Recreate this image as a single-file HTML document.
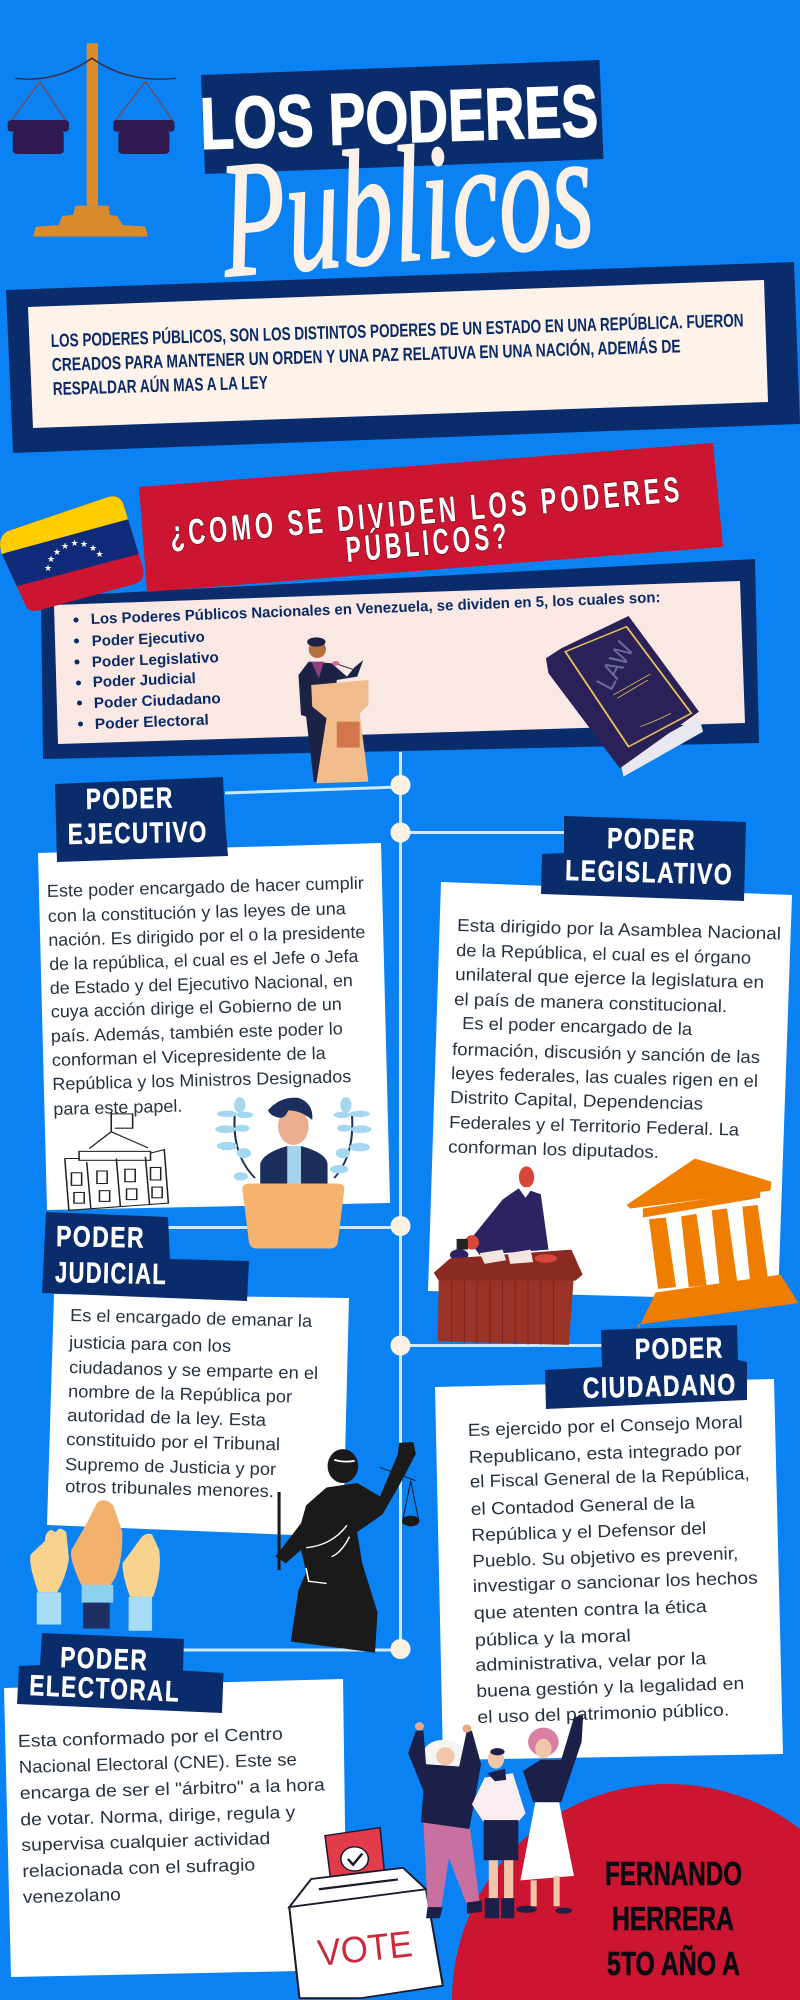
<!DOCTYPE html>
<html lang="es"><head><meta charset="utf-8"><title>Los Poderes Públicos</title>
<style>
html,body{margin:0;padding:0;background:#0b82f4;width:800px;height:2000px;overflow:hidden}
svg{display:block}
text{font-family:"Liberation Sans","DejaVu Sans",sans-serif}
.b{font-size:17.5px;fill:#26323f}
.t{font-size:29px;font-weight:700;fill:#fff;stroke:#fff;stroke-width:.5px;letter-spacing:2px}
.l{font-size:15px;font-weight:700;fill:#0a2a66}
.p{font-size:18.5px;font-weight:700;fill:#0a2a66}
.n{font-size:33px;font-weight:700;fill:#0a0a12;stroke:#0a0a12;stroke-width:.6px}
.h{font-size:36px;font-weight:700;fill:#fff;letter-spacing:6px;paint-order:stroke;stroke:#6d0a1c;stroke-width:1.5px}
</style></head><body>
<svg width="800" height="2000" viewBox="0 0 800 2000" xmlns="http://www.w3.org/2000/svg">
<defs>
<clipPath id="fc"><path d="M0 545Q0 535 8 531L105 498Q120 492 124 506L143 568Q146 580 135 584L40 610Q28 614 24 602L1 552Z"/></clipPath>
</defs>
<rect width="800" height="2000" fill="#0b82f4"/>

<!-- scale -->
<g transform="scale(.5102,.3333)">
<polygon points="65,710 290,710 285,680 240,675 230,648 215,645 213,617 148,617 143,645 122,648 115,675 70,680" fill="#d98a2b"/>
<rect x="170" y="130" width="22" height="487" fill="#dc8c2c"/>
<path d="M30 235Q110 250 180 175Q250 250 345 235" fill="none" stroke="#3a2a40" stroke-width="4"/>
<path d="M78 245L20 365M78 245L130 365M285 245L225 365M285 245L340 365" stroke="#8a3f3a" stroke-width="2.5" fill="none"/>
<rect x="15" y="360" width="120" height="35" rx="8" fill="#2e1a4f"/><rect x="25" y="392" width="100" height="70" rx="10" fill="#2e1a4f"/>
<rect x="222" y="360" width="120" height="35" rx="8" fill="#2e1a4f"/><rect x="232" y="392" width="100" height="70" rx="10" fill="#2e1a4f"/>
</g>

<!-- title -->
<polygon points="201,75 599.5,60 603.5,159 205,174" fill="#0a2c6b"/>
<text transform="translate(201 149) rotate(-1.9)" font-size="73" font-weight="700" fill="#fff" stroke="#fff" stroke-width="1.5" textLength="398" lengthAdjust="spacingAndGlyphs">LOS PODERES</text>
<text transform="translate(226 276) rotate(-5)" font-size="165" style="font-family:'Liberation Serif',serif;font-style:italic" fill="#fbf1e8" stroke="#fbf1e8" stroke-width="2.5" textLength="372" lengthAdjust="spacingAndGlyphs">Publicos</text>

<!-- intro panel -->
<polygon points="6,290 794,262 800,424 13,453" fill="#0a2c6b"/>
<polygon points="28,307 764,280 768,402 33,428" fill="#fdf3ea"/>
<text class="p" transform="translate(51 347) rotate(-1.7)" textLength="693" lengthAdjust="spacingAndGlyphs">LOS PODERES PÚBLICOS, SON LOS DISTINTOS PODERES DE UN ESTADO EN UNA REPÚBLICA. FUERON</text>
<text class="p" transform="translate(52 371) rotate(-1.7)" textLength="629" lengthAdjust="spacingAndGlyphs">CREADOS PARA MANTENER UN ORDEN Y UNA PAZ RELATUVA EN UNA NACIÓN, ADEMÁS DE</text>
<text class="p" transform="translate(53 395) rotate(-1.7)" textLength="215" lengthAdjust="spacingAndGlyphs">RESPALDAR AÚN MAS A LA LEY</text>

<!-- panel 2 -->
<polygon points="41,597 755,559 759,743 43,759" fill="#0a2c6b"/>
<polygon points="54,605 740,581 745,723 58,744" fill="#f9e8e4"/>

<!-- red banner -->
<polygon points="139,487 713,443 723,547 147,592" fill="#cc1530"/>
<text class="h" transform="translate(171 546) rotate(-5)" textLength="515" lengthAdjust="spacingAndGlyphs">¿COMO SE DIVIDEN LOS PODERES</text>
<text class="h" transform="translate(347 562) rotate(-5)" textLength="165" lengthAdjust="spacingAndGlyphs">PÚBLICOS?</text>

<!-- flag -->
<g clip-path="url(#fc)">
<rect x="0" y="480" width="160" height="140" fill="#cc1530"/>
<polygon points="14,587 139,554 150,480 0,480 0,590" fill="#0e2a78"/>
<polygon points="5,553 129,519 129,480 0,480 0,555" fill="#ffcc00"/>
</g>
<g font-size="9" fill="#fff" style="font-family:'DejaVu Sans',sans-serif" text-anchor="middle">
<text x="48" y="571" style="font-family:'DejaVu Sans',sans-serif">★</text><text x="51" y="562" style="font-family:'DejaVu Sans',sans-serif">★</text><text x="57" y="555" style="font-family:'DejaVu Sans',sans-serif">★</text><text x="65" y="549" style="font-family:'DejaVu Sans',sans-serif">★</text><text x="74.5" y="546" style="font-family:'DejaVu Sans',sans-serif">★</text><text x="84" y="547" style="font-family:'DejaVu Sans',sans-serif">★</text><text x="93" y="551" style="font-family:'DejaVu Sans',sans-serif">★</text><text x="99.5" y="557" style="font-family:'DejaVu Sans',sans-serif">★</text>
</g>

<!-- list -->
<g fill="#0a2a66"><circle cx="76" cy="620" r="2.5"/><circle cx="76.5" cy="641" r="2.5"/><circle cx="77" cy="662" r="2.5"/><circle cx="78.5" cy="683" r="2.5"/><circle cx="79.5" cy="703" r="2.5"/><circle cx="80.5" cy="724" r="2.5"/></g>
<text class="l" transform="translate(91 624) rotate(-2.2)" textLength="570" lengthAdjust="spacingAndGlyphs">Los Poderes Públicos Nacionales en Venezuela, se dividen en 5, los cuales son:</text>
<text class="l" transform="translate(92 646) rotate(-2.2)" textLength="113" lengthAdjust="spacingAndGlyphs">Poder Ejecutivo</text>
<text class="l" transform="translate(92 667) rotate(-2.2)" textLength="127" lengthAdjust="spacingAndGlyphs">Poder Legislativo</text>
<text class="l" transform="translate(93 687) rotate(-2.2)" textLength="103" lengthAdjust="spacingAndGlyphs">Poder Judicial</text>
<text class="l" transform="translate(94 708) rotate(-2.2)" textLength="127" lengthAdjust="spacingAndGlyphs">Poder Ciudadano</text>
<text class="l" transform="translate(95 729) rotate(-2.2)" textLength="114" lengthAdjust="spacingAndGlyphs">Poder Electoral</text>

<!-- timeline -->
<g stroke="#cdeaff" stroke-width="3" fill="none">
<path d="M400.5 752V1650"/>
<path d="M225 793L400 787M400 832.5H570M165 1227.5H400M400 1345.5H605M180 1650H400"/>
</g>
<g fill="#fdf1e4"><circle cx="400.5" cy="785" r="10"/><circle cx="400.5" cy="832.5" r="10"/><circle cx="400.5" cy="1226" r="10"/><circle cx="400.5" cy="1345.5" r="10"/><circle cx="400.5" cy="1649" r="10"/></g>

<!-- speaker and book (zoom 2 coordinates) -->
<g transform="translate(0,440) scale(.5102,.3333)">
<polygon points="605,665 585,705 590,825 600,830 615,1025 625,1030 650,900 660,720 700,710 712,660 695,682 680,710 650,670" fill="#1c2146"/>
<polygon points="610,665 625,715 635,665" fill="#8d3f7a"/>
<ellipse cx="622" cy="628" rx="17" ry="26" fill="#b5703f"/><ellipse cx="620" cy="606" rx="18" ry="14" fill="#1c2146"/>
<path d="M660 672L695 690" stroke="#333" stroke-width="3"/><circle cx="658" cy="670" r="7" fill="#d86a9a"/>
<polygon points="610,735 722,720 722,795 705,820 722,1025 620,1030 640,835 612,800" fill="#f2bd8c"/>
<rect x="660" y="845" width="45" height="78" fill="#d2774d"/>
<polygon points="1215,960 1370,830 1378,875 1222,1010" fill="#e8e8ee"/>
<polygon points="1232,528 1370,815 1215,985 1075,700 1070,655 1100,625" fill="#2a2158"/>
<polygon points="1228,560 1355,820 1232,920 1108,635" fill="none" stroke="#e4c35a" stroke-width="4"/>
<path d="M1202 765L1275 702M1210 775L1270 720M1255 860Q1290 840 1315 820" stroke="#e4c35a" stroke-width="2" fill="none"/>
</g>
<text transform="translate(611 692) rotate(-62)" font-size="26" fill="#6d6d9c" textLength="50" lengthAdjust="spacingAndGlyphs">LAW</text>

<!-- Ejecutivo -->
<polygon points="38,853 381,843 390,1203 47,1210" fill="#fff"/>
<polygon points="55,784 223,777 225,820 228,856 57,862" fill="#0a2c6b"/>
<text class="t" transform="translate(86 809) rotate(-1)" textLength="88" lengthAdjust="spacingAndGlyphs">PODER</text>
<text class="t" transform="translate(68 844) rotate(-1)" textLength="140" lengthAdjust="spacingAndGlyphs">EJECUTIVO</text>
<text class="b" transform="translate(47 897) rotate(-1.5)" textLength="317" lengthAdjust="spacingAndGlyphs">Este poder encargado de hacer cumplir</text>
<text class="b" transform="translate(48 922) rotate(-1.5)" textLength="298" lengthAdjust="spacingAndGlyphs">con la constitución y las leyes de una</text>
<text class="b" transform="translate(48.5 946) rotate(-1.5)" textLength="317" lengthAdjust="spacingAndGlyphs">nación. Es dirigido por el o la presidente</text>
<text class="b" transform="translate(49.5 970) rotate(-1.5)" textLength="309" lengthAdjust="spacingAndGlyphs">de la república, el cual es el Jefe o Jefa</text>
<text class="b" transform="translate(50 994) rotate(-1.5)" textLength="303" lengthAdjust="spacingAndGlyphs">de Estado y del Ejecutivo Nacional, en</text>
<text class="b" transform="translate(51 1017.5) rotate(-1.5)" textLength="291" lengthAdjust="spacingAndGlyphs">cuya acción dirige el Gobierno de un</text>
<text class="b" transform="translate(51 1042) rotate(-1.5)" textLength="292" lengthAdjust="spacingAndGlyphs">país. Además, también este poder lo</text>
<text class="b" transform="translate(52 1066) rotate(-1.5)" textLength="274" lengthAdjust="spacingAndGlyphs">conforman el Vicepresidente de la</text>
<text class="b" transform="translate(52.5 1090) rotate(-1.5)" textLength="299" lengthAdjust="spacingAndGlyphs">República y los Ministros Designados</text>
<text class="b" transform="translate(53.5 1115) rotate(-1.5)" textLength="129" lengthAdjust="spacingAndGlyphs">para este papel.</text>

<!-- Legislativo -->
<polygon points="441,882 792,895 778,1300 428,1291" fill="#fff"/>
<polygon points="564,816 746,822 744,901 541,894 542,854 564,853" fill="#0a2c6b"/>
<text class="t" transform="translate(607 848) rotate(1)" textLength="89" lengthAdjust="spacingAndGlyphs">PODER</text>
<text class="t" transform="translate(565 880) rotate(1.5)" textLength="168" lengthAdjust="spacingAndGlyphs">LEGISLATIVO</text>
<text class="b" transform="translate(457 931) rotate(1.5)" textLength="324" lengthAdjust="spacingAndGlyphs">Esta dirigido por la Asamblea Nacional</text>
<text class="b" transform="translate(456 956) rotate(1.5)" textLength="295" lengthAdjust="spacingAndGlyphs">de la República, el cual es el órgano</text>
<text class="b" transform="translate(455 980) rotate(1.5)" textLength="309" lengthAdjust="spacingAndGlyphs">unilateral que ejerce la legislatura en</text>
<text class="b" transform="translate(454 1005) rotate(1.5)" textLength="273" lengthAdjust="spacingAndGlyphs">el país de manera constitucional.</text>
<text class="b" transform="translate(462 1029) rotate(1.5)" textLength="230" lengthAdjust="spacingAndGlyphs">Es el poder encargado de la</text>
<text class="b" transform="translate(452 1055) rotate(1.5)" textLength="308" lengthAdjust="spacingAndGlyphs">formación, discusión y sanción de las</text>
<text class="b" transform="translate(451 1079) rotate(1.5)" textLength="307" lengthAdjust="spacingAndGlyphs">leyes federales, las cuales rigen en el</text>
<text class="b" transform="translate(450 1103) rotate(1.5)" textLength="253" lengthAdjust="spacingAndGlyphs">Distrito Capital, Dependencias</text>
<text class="b" transform="translate(449 1128) rotate(1.5)" textLength="290" lengthAdjust="spacingAndGlyphs">Federales y el Territorio Federal. La</text>
<text class="b" transform="translate(448 1152.5) rotate(1.5)" textLength="211" lengthAdjust="spacingAndGlyphs">conforman los diputados.</text>

<!-- Judicial -->
<polygon points="54,1294 349,1298 343,1537 47,1525" fill="#fff"/>
<polygon points="46,1212 168,1217 170,1259 249,1261 247,1301 42,1293" fill="#0a2c6b"/>
<text class="t" transform="translate(56 1246) rotate(1)" textLength="89" lengthAdjust="spacingAndGlyphs">PODER</text>
<text class="t" transform="translate(55 1282) rotate(1)" textLength="112" lengthAdjust="spacingAndGlyphs">JUDICIAL</text>
<text class="b" transform="translate(70 1321) rotate(1.4)" textLength="242" lengthAdjust="spacingAndGlyphs">Es el encargado de emanar la</text>
<text class="b" transform="translate(69 1348) rotate(1.4)" textLength="162" lengthAdjust="spacingAndGlyphs">justicia para con los</text>
<text class="b" transform="translate(69 1373) rotate(1.4)" textLength="249" lengthAdjust="spacingAndGlyphs">ciudadanos y se emparte en el</text>
<text class="b" transform="translate(68 1397) rotate(1.4)" textLength="224" lengthAdjust="spacingAndGlyphs">nombre de la República por</text>
<text class="b" transform="translate(67 1421) rotate(1.4)" textLength="199" lengthAdjust="spacingAndGlyphs">autoridad de la ley.  Esta</text>
<text class="b" transform="translate(66 1445) rotate(1.4)" textLength="214" lengthAdjust="spacingAndGlyphs">constituido por el Tribunal</text>
<text class="b" transform="translate(65 1470) rotate(1.4)" textLength="211" lengthAdjust="spacingAndGlyphs">Supremo de Justicia y por</text>
<text class="b" transform="translate(65 1492) rotate(1.4)" textLength="209" lengthAdjust="spacingAndGlyphs">otros tribunales menores.</text>

<!-- Ciudadano -->
<polygon points="435,1387 774,1379 783,1754 443,1760" fill="#fff"/>
<polygon points="601,1330 737,1325 738,1360 747,1362 747,1400 546,1409 545,1370 602,1367" fill="#0a2c6b"/>
<text class="t" transform="translate(635 1359) rotate(-1)" textLength="89" lengthAdjust="spacingAndGlyphs">PODER</text>
<text class="t" transform="translate(583 1398) rotate(-1.5)" textLength="154" lengthAdjust="spacingAndGlyphs">CIUDADANO</text>
<text class="b" transform="translate(468 1436) rotate(-1.7)" textLength="275" lengthAdjust="spacingAndGlyphs">Es ejercido por el Consejo Moral</text>
<text class="b" transform="translate(469 1463) rotate(-1.7)" textLength="273" lengthAdjust="spacingAndGlyphs">Republicano, esta integrado por</text>
<text class="b" transform="translate(470 1487.5) rotate(-1.7)" textLength="280" lengthAdjust="spacingAndGlyphs">el Fiscal General de la República,</text>
<text class="b" transform="translate(471 1515) rotate(-1.7)" textLength="224" lengthAdjust="spacingAndGlyphs">el Contadod General de la</text>
<text class="b" transform="translate(471.5 1541) rotate(-1.7)" textLength="235" lengthAdjust="spacingAndGlyphs">República y el Defensor del</text>
<text class="b" transform="translate(472.5 1567) rotate(-1.7)" textLength="266" lengthAdjust="spacingAndGlyphs">Pueblo. Su objetivo es prevenir,</text>
<text class="b" transform="translate(473 1592) rotate(-1.7)" textLength="285" lengthAdjust="spacingAndGlyphs">investigar o sancionar los hechos</text>
<text class="b" transform="translate(474 1619) rotate(-1.7)" textLength="233" lengthAdjust="spacingAndGlyphs">que atenten contra la ética</text>
<text class="b" transform="translate(475 1646) rotate(-1.7)" textLength="156" lengthAdjust="spacingAndGlyphs">pública y la moral</text>
<text class="b" transform="translate(475.5 1671) rotate(-1.7)" textLength="231" lengthAdjust="spacingAndGlyphs">administrativa, velar por la</text>
<text class="b" transform="translate(476.5 1697) rotate(-1.7)" textLength="268" lengthAdjust="spacingAndGlyphs">buena gestión y la legalidad en</text>
<text class="b" transform="translate(477.5 1723) rotate(-1.7)" textLength="252" lengthAdjust="spacingAndGlyphs">el uso del patrimonio público.</text>

<!-- Electoral -->
<polygon points="4,1688 343,1679 347,1970 11,1977" fill="#fff"/>
<polygon points="42,1633 184,1639 183,1670.5 223.5,1673 222,1713 17,1704 19,1666 40,1665" fill="#0a2c6b"/>
<text class="t" transform="translate(60 1667) rotate(2)" textLength="88" lengthAdjust="spacingAndGlyphs">PODER</text>
<text class="t" transform="translate(29 1695) rotate(2.5)" textLength="151" lengthAdjust="spacingAndGlyphs">ELECTORAL</text>
<text class="b" transform="translate(18 1747) rotate(-1.6)" textLength="265" lengthAdjust="spacingAndGlyphs">Esta conformado por el Centro</text>
<text class="b" transform="translate(19 1773) rotate(-1.6)" textLength="278" lengthAdjust="spacingAndGlyphs">Nacional Electoral (CNE). Este se</text>
<text class="b" transform="translate(20 1799) rotate(-1.6)" textLength="305" lengthAdjust="spacingAndGlyphs">encarga de ser el "árbitro" a la hora</text>
<text class="b" transform="translate(20.5 1825.5) rotate(-1.6)" textLength="275" lengthAdjust="spacingAndGlyphs">de votar. Norma, dirige, regula y</text>
<text class="b" transform="translate(21.5 1851) rotate(-1.6)" textLength="249" lengthAdjust="spacingAndGlyphs">supervisa cualquier actividad</text>
<text class="b" transform="translate(22.5 1877) rotate(-1.6)" textLength="233" lengthAdjust="spacingAndGlyphs">relacionada con el sufragio</text>
<text class="b" transform="translate(23 1903) rotate(-1.6)" textLength="98" lengthAdjust="spacingAndGlyphs">venezolano</text>

<!-- illustrations zoom 3 -->
<g transform="translate(0,780) scale(.5102,.3571)">
<!-- building -->
<g fill="none" stroke="#222" stroke-width="3">
<path d="M218 930V985M218 935H260V975H225M175 1032L218 985L290 1030"/>
<rect x="155" y="1040" width="140" height="25"/>
<path d="M127 1060L135 1205L330 1185L322 1035L295 1045M155 1060L127 1060"/>
<path d="M170 1070L178 1200M228 1060L236 1195M285 1055L293 1188"/>
<rect x="140" y="1100" width="20" height="35"/><rect x="190" y="1095" width="20" height="35"/><rect x="245" y="1090" width="20" height="35"/><rect x="295" y="1085" width="20" height="35"/>
<rect x="145" y="1155" width="20" height="30"/><rect x="195" y="1150" width="20" height="30"/><rect x="248" y="1145" width="20" height="30"/><rect x="298" y="1140" width="20" height="30"/>
</g>
<!-- laurel person -->
<path d="M460 940Q455 1050 500 1115M690 940Q695 1050 655 1115" stroke="#1b2e5c" stroke-width="4" fill="none"/>
<g fill="#a5d8f0">
<ellipse cx="470" cy="910" rx="11" ry="22"/><ellipse cx="445" cy="935" rx="20" ry="9"/><ellipse cx="480" cy="938" rx="16" ry="9"/><ellipse cx="442" cy="978" rx="20" ry="11"/><ellipse cx="475" cy="975" rx="14" ry="10"/><ellipse cx="445" cy="1025" rx="20" ry="12"/><ellipse cx="478" cy="1045" rx="14" ry="14"/><ellipse cx="472" cy="1110" rx="14" ry="12"/>
<ellipse cx="678" cy="910" rx="11" ry="22"/><ellipse cx="705" cy="935" rx="20" ry="9"/><ellipse cx="670" cy="938" rx="16" ry="9"/><ellipse cx="708" cy="978" rx="20" ry="11"/><ellipse cx="675" cy="975" rx="14" ry="10"/><ellipse cx="705" cy="1028" rx="20" ry="12"/><ellipse cx="672" cy="1045" rx="14" ry="14"/><ellipse cx="665" cy="1090" rx="18" ry="12"/>
</g>
<path d="M510 1130V1075Q515 1045 563 1025H590Q640 1045 642 1075V1130Z" fill="#1b2e5c"/>
<rect x="563" y="1025" width="27" height="105" fill="#a5d3ee"/>
<ellipse cx="575" cy="970" rx="30" ry="52" fill="#e8ae8f"/>
<path d="M525 925Q550 885 585 890Q615 905 612 952Q590 925 565 925Q558 950 545 945Q530 940 525 925Z" fill="#1b2e5c"/>
<path d="M475 1145Q475 1130 490 1130H660Q675 1130 675 1145L662 1295Q660 1312 645 1312H505Q490 1312 488 1295Z" fill="#f7b26d"/>
<!-- judge -->
<polygon points="1020,1140 1060,1160 1075,1315 940,1330 920,1290 985,1175" fill="#2b2460"/>
<ellipse cx="1032" cy="1112" rx="15" ry="30" fill="#d8463a"/>
<polygon points="1015,1140 1045,1140 1030,1170" fill="#fff"/>
<ellipse cx="925" cy="1295" rx="14" ry="20" fill="#d8463a"/>
<rect x="895" y="1285" width="22" height="30" fill="#222"/><ellipse cx="900" cy="1330" rx="18" ry="16" fill="#2b2460"/>
<polygon points="860,1385 1125,1385 1115,1582 858,1572" fill="#9a3327"/>
<path d="M885 1390V1574M910 1390V1576M935 1390V1577M960 1390V1578M985 1390V1579M1010 1390V1580M1035 1390V1581M1060 1390V1581M1085 1390V1582" stroke="#7a261e" stroke-width="2"/>
<polygon points="850,1380 882,1340 1120,1315 1142,1385 1128,1402 860,1402" fill="#8a2b22"/>
<polygon points="940,1325 985,1315 992,1345 950,1355" fill="#f3e6e0"/><polygon points="995,1325 1040,1315 1045,1350 1000,1355" fill="#f3e6e0"/>
<ellipse cx="1070" cy="1340" rx="22" ry="12" fill="#d8463a"/>
<!-- temple -->
<g fill="#ef7d00">
<polygon points="1228,1190 1362,1060 1512,1125 1510,1150 1235,1200"/>
<polygon points="1260,1200 1490,1150 1490,1170 1260,1225"/>
<polygon points="1272,1230 1305,1225 1325,1420 1290,1425"/><polygon points="1335,1222 1365,1215 1385,1415 1350,1420"/><polygon points="1395,1205 1425,1200 1445,1405 1410,1410"/><polygon points="1455,1195 1485,1190 1505,1395 1470,1400"/>
<polygon points="1285,1435 1530,1385 1565,1465 1250,1525 1250,1540"/>
</g>
</g>

<!-- illustrations zoom 4 -->
<path d="M452 2000A216 216 0 0 1 800 1829V2000Z" fill="#cc1530"/>
<g transform="translate(0,1300) scale(.5102,.4464)">
<!-- statue -->
<g fill="#1a1a1a">
<ellipse cx="672" cy="372" rx="30" ry="38"/>
<polygon points="620,440 640,420 700,410 745,440 780,345 782,320 810,318 815,345 785,410 750,480 700,520 710,590 740,700 735,790 570,765 585,650 600,610 590,560 560,590 540,575 590,500 600,460"/>
<rect x="544" y="430" width="6" height="175"/>
<path d="M745 375L815 405M805 405L790 490M805 405L820 490" stroke="#1a1a1a" stroke-width="2" fill="none"/>
<ellipse cx="805" cy="495" rx="17" ry="12"/>
</g>
<path d="M655 358Q675 365 695 360" stroke="#fff" stroke-width="4" fill="none"/>
<path d="M600 555Q650 550 680 505M650 575Q670 565 685 530M600 600L605 630L640 635" stroke="#fff" stroke-width="3" fill="none"/>
<!-- hands -->
<path d="M60 570Q55 590 75 655H112Q130 620 135 580L130 520Q115 505 110 520L100 515Q88 520 88 540Z" fill="#f8d38e"/>
<rect x="72" y="655" width="48" height="72" fill="#a7dcf5"/>
<path d="M140 560Q135 580 160 640H215Q240 610 240 520L222 460Q205 440 190 455L170 500Z" fill="#f2b26e"/>
<rect x="160" y="638" width="62" height="40" fill="#8fd0ee"/><rect x="163" y="678" width="52" height="58" fill="#1e2f62"/>
<path d="M240 590Q240 620 255 665H300Q318 610 312 560L298 525Q285 520 275 535Z" fill="#f8d38e"/>
<rect x="252" y="665" width="46" height="76" fill="#a7dcf5"/>
<!-- vote box -->
<polygon points="637,1200 745,1182 755,1300 650,1315" fill="#e23b4a" stroke="#1a1a2a" stroke-width="3"/>
<circle cx="695" cy="1252" r="27" fill="#fff" stroke="#1a1a2a" stroke-width="3"/>
<path d="M682 1252L692 1265L710 1240" stroke="#1a1a2a" stroke-width="5" fill="none"/>
<polygon points="567,1360 610,1297 790,1272 835,1320" fill="#fff" stroke="#1a1a2a" stroke-width="4"/>
<polygon points="567,1360 835,1320 868,1536 708,1564 587,1564" fill="#fff" stroke="#1a1a2a" stroke-width="4"/>
<path d="M625 1320L780 1298" stroke="#1a1a2a" stroke-width="5"/>
<!-- person 1 -->
<ellipse cx="870" cy="1020" rx="42" ry="35" fill="#f4f4f4"/>
<ellipse cx="873" cy="1022" rx="18" ry="20" fill="#f2c6a8"/>
<polygon points="830,1170 920,1170 940,1350 915,1355 880,1250 865,1360 838,1360" fill="#c8709f"/>
<polygon points="800,1015 815,965 830,965 835,1040 900,1045 915,965 925,965 943,1040 920,1185 825,1170 830,1100" fill="#1c1f47"/>
<circle cx="822" cy="955" r="9" fill="#e8a98a"/><circle cx="915" cy="960" r="9" fill="#e8a98a"/>
<polygon points="838,1360 868,1360 862,1385 835,1385" fill="#1c1f47"/><polygon points="915,1350 945,1345 945,1370 915,1375" fill="#1c1f47"/>
<!-- person 2 -->
<polygon points="950,1070 1005,1060 1030,1150 1015,1170 948,1170 925,1130" fill="#fbeef0"/>
<ellipse cx="972" cy="1028" rx="16" ry="22" fill="#f2c6a8"/><ellipse cx="975" cy="1012" rx="14" ry="8" fill="#1c1f47"/>
<polygon points="955,1060 990,1050 992,1075 970,1078" fill="#1c1f47"/>
<rect x="948" y="1165" width="68" height="90" fill="#1c1f47"/>
<rect x="958" y="1255" width="18" height="85" fill="#f2c6a8"/><rect x="988" y="1255" width="18" height="85" fill="#f2c6a8"/>
<rect x="950" y="1340" width="28" height="45" fill="#1c1f47"/><rect x="982" y="1340" width="26" height="45" fill="#1c1f47"/>
<!-- person 3 -->
<polygon points="1050,1120 1095,1120 1125,1290 1020,1300" fill="#fff"/>
<polygon points="1025,1055 1060,1030 1100,1030 1125,935 1143,930 1140,990 1100,1125 1045,1125" fill="#1c1f47"/>
<ellipse cx="1065" cy="990" rx="30" ry="32" fill="#d87fa3"/><ellipse cx="1065" cy="1005" rx="16" ry="22" fill="#f2c6a8"/>
<rect x="1040" y="1300" width="12" height="58" fill="#f2c6a8"/><rect x="1085" y="1290" width="12" height="68" fill="#f2c6a8"/>
<ellipse cx="1032" cy="1365" rx="20" ry="8" fill="#1c1f47"/><ellipse cx="1105" cy="1368" rx="16" ry="7" fill="#1c1f47"/>
</g>

<text transform="translate(319 1966) rotate(-6)" font-size="37" fill="#cc2a3c" textLength="95" lengthAdjust="spacingAndGlyphs">VOTE</text>
<text class="n" x="605" y="1885" textLength="137" lengthAdjust="spacingAndGlyphs">FERNANDO</text>
<text class="n" x="612" y="1930" textLength="122" lengthAdjust="spacingAndGlyphs">HERRERA</text>
<text class="n" x="607" y="1975" textLength="133" lengthAdjust="spacingAndGlyphs">5TO AÑO A</text>
</svg>
</body></html>
